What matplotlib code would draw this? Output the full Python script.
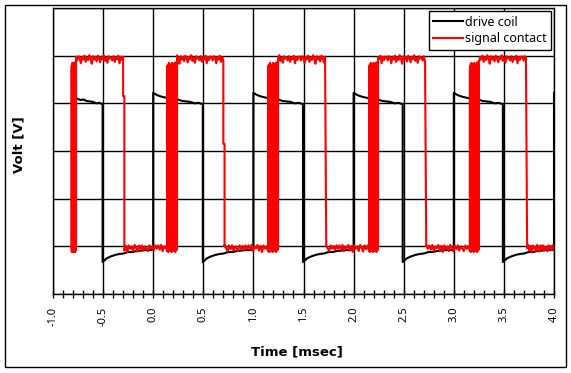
import numpy as np
import matplotlib
matplotlib.use('Agg')
import matplotlib.pyplot as plt
from matplotlib.patches import Rectangle
from matplotlib.ticker import MultipleLocator

plt.rcParams['font.family'] = ['Noto Sans', 'DejaVu Sans']

# x axis [msec]
x_ticks = [-1.0, -0.5, 0.0, 0.5, 1.0, 1.5, 2.0, 2.5, 3.0, 3.5, 4.0]
x_labels = ['-1.0', '-0.5', '0.0', '0.5', '1.0', '1.5', '2.0', '2.5', '3.0', '3.5', '4.0']
y_grid = [-1, 0, 1, 2, 3, 4, 5]

# drive coil: edge times [msec] and decay shape of each level [V]
coil_start = -0.76
coil_fall = [-0.505, 0.495, 1.495, 2.49, 3.49]
coil_rise = [0.0, 1.0, 2.0, 3.0, 4.0]
coil_high = [3.22, 3.17, 3.14, 3.12, 3.1, 3.07, 3.08, 3.05, 3.04, 3.03, 3.0, 3.01, 2.98]
coil_low = [-0.33, -0.25, -0.21, -0.18, -0.16, -0.15, -0.12, -0.12, -0.1, -0.09, -0.08, -0.08, -0.07]

# signal contact: bounce bands, falling edges [msec]
sig_bounce_start = [-0.815, 0.138, 1.146, 2.154, 3.16]
sig_bounce_end = [-0.77, 0.238, 1.246, 2.244, 3.25]
sig_fall = [-0.30, 0.70, 1.715, 2.713, 3.72]
sig_fall_step = [3.15, 2.15, 0.0, 0.0, 0.0]
sig_end = 4.0
sig_high = 3.96
sig_low = 0.0
sig_high_ripple = [0.02, -0.06, 0.03, -0.01, -0.12, 0.02, -0.04, 0.04, -0.09, 0.01,
                   -0.05, 0.05, -0.02, -0.13, 0.03, -0.04, 0.02, -0.08, 0.04, -0.01,
                   -0.1, 0.02, -0.03, 0.05, -0.07, 0.0, -0.11, 0.03, -0.02, 0.01,
                   -0.06, 0.03, -0.09, 0.01, -0.03, 0.04, -0.12, 0.02, -0.05, 0.02]
sig_low_ripple = [0.02, -0.07, 0.03, -0.1, 0.0, -0.04, 0.03, -0.09, 0.01, -0.12,
                  0.02, -0.05, 0.0, -0.1, 0.03, -0.03, -0.11, 0.02, -0.06, 0.02,
                  -0.09, 0.0, -0.04, -0.1, 0.02, -0.05, 0.01, -0.08, 0.02, -0.05]
bounce_frac = [0.0, 0.06, 0.12, 0.19, 0.25, 0.31, 0.38, 0.44, 0.5, 0.56,
               0.62, 0.69, 0.75, 0.81, 0.88, 0.94, 1.0]
bounce_top = [3.7, 3.8, 3.75, 3.85, 3.8, 3.7, 3.82, 3.78, 3.85, 3.8,
              3.75, 3.82, 3.8, 3.86, 3.8, 3.84, 3.88]
bounce_bottom = [-0.1, 0.0, -0.12, -0.05, 0.0, -0.1, -0.02, -0.12, 0.0, -0.08,
                 -0.1, 0.0, -0.06, -0.12, 0.0, -0.08, -0.05]


def segment(t0, t1, values):
    tt = np.linspace(t0, t1, len(values))
    return list(tt), list(values)


# ---- build drive coil trace
ct, cv = [], []
a, b = segment(coil_start, coil_fall[0], coil_high[4:])
ct += a; cv += b
for i in range(len(coil_rise)):
    a, b = segment(coil_fall[i], coil_rise[i], coil_low)
    ct += a; cv += b
    if coil_rise[i] < sig_end:
        nxt = coil_fall[i + 1] if i + 1 < len(coil_fall) else sig_end
        a, b = segment(coil_rise[i], nxt, coil_high)
        ct += a; cv += b
    else:
        ct += [coil_rise[i]]; cv += [coil_high[0]]

# ---- build signal contact trace
st, sv = [], []
for i in range(len(sig_fall)):
    if i > 0:
        k = (i * 7) % len(sig_low_ripple)
        rip = sig_low_ripple[k:] + sig_low_ripple[:k]
        a, b = segment(sig_fall[i - 1] + 0.012, sig_bounce_start[i],
                       [sig_low + r for r in rip])
        st += a; sv += b
    bs, be = sig_bounce_start[i], sig_bounce_end[i]
    for j, f in enumerate(bounce_frac):
        tt = bs + f * (be - bs)
        if j % 2 == 0:
            st += [tt, tt]; sv += [bounce_bottom[j], bounce_top[j]]
        else:
            st += [tt, tt]; sv += [bounce_top[j], bounce_bottom[j]]
    k = (i * 11) % len(sig_high_ripple)
    rip = sig_high_ripple[k:] + sig_high_ripple[:k]
    a, b = segment(be, sig_fall[i], [sig_high + r for r in rip])
    st += a; sv += b
    if sig_fall_step[i] > 0:
        st += [sig_fall[i], sig_fall[i] + 0.012]
        sv += [sig_fall_step[i], sig_fall_step[i]]
    st += [sig_fall[i] + 0.012]; sv += [sig_low]
a, b = segment(sig_fall[-1] + 0.012, sig_end, [sig_low + r for r in sig_low_ripple[5:]])
st += a; sv += b

fig = plt.figure(figsize=(5.71, 3.73), dpi=100)
ax = fig.add_axes([53 / 571, 1 - 294 / 373, (554 - 53) / 571, (294 - 8) / 373])

ax.plot(ct, cv, color='black', lw=1.5, label='drive coil')
ax.plot(st, sv, color='#ff0000', lw=1.5, label='signal contact')

ax.set_xlim(-1.0, 4.0)
ax.set_ylim(-1, 5)
ax.set_xticks(x_ticks)
ax.set_xticklabels(x_labels, rotation=90, fontsize=8)
ax.xaxis.set_minor_locator(MultipleLocator(0.1))
ax.tick_params(axis='x', which='both', direction='inout', length=6, width=1, pad=6)
ax.set_yticks(y_grid)
ax.set_yticklabels([])
ax.tick_params(axis='y', length=0)
ax.grid(True, which='major', color='black', lw=1)
for sp in ax.spines.values():
    sp.set_color('black')
    sp.set_linewidth(1)

leg = ax.legend(loc='upper right', fontsize=9, fancybox=False, framealpha=1,
                edgecolor='black', handlelength=2.4, handletextpad=0.15,
                borderaxespad=0.25, borderpad=0.35, labelspacing=0.3)
leg.get_frame().set_linewidth(1)

fig.text(19 / 571, 1 - 145 / 373, 'Volt [V]', rotation=90, fontsize=9.5,
         family='DejaVu Sans', fontweight='bold', ha='center', va='center')
fig.text(297 / 571, 1 - 352 / 373, 'Time [msec]', fontsize=9.5,
         family='DejaVu Sans', fontweight='bold', ha='center', va='center')

fig.add_artist(Rectangle((5 / 571, 6 / 373), 561 / 571, 362 / 373,
                         transform=fig.transFigure, fill=False,
                         edgecolor='black', lw=1))

fig.savefig('out.png', dpi=100)
